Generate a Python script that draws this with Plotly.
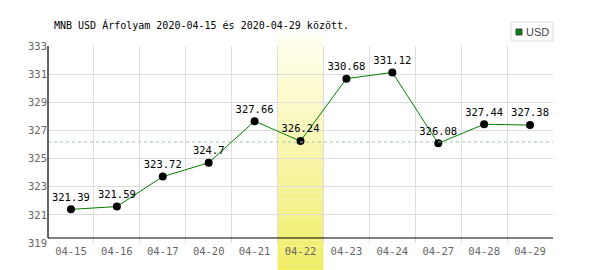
import plotly.graph_objects as go

dates = ["04-15", "04-16", "04-17", "04-20", "04-21", "04-22", "04-23", "04-24", "04-27", "04-28", "04-29"]
rates = [321.39, 321.59, 323.72, 324.7, 327.66, 326.24, 330.68, 331.12, 326.08, 327.44, 327.38]
value_labels = ["321.39", "321.59", "323.72", "324.7", "327.66", "326.24", "330.68", "331.12", "326.08", "327.44", "327.38"]
highlight_date = "04-22"
y_ticks = [319, 321, 323, 325, 327, 329, 331, 333]
title_text = "MNB USD Árfolyam 2020-04-15 és 2020-04-29 között."
series_name = "USD"

W, H = 600, 270
L, R, T, B = 48, 553, 46, 243
MONO = "DejaVu Sans Mono"


def px(X):
    return (X - L) / (R - L)


def py(Y):
    return (B - Y) / (B - T)


avg = sum(rates) / len(rates)
hi = dates.index(highlight_date)

fig = go.Figure()
fig.add_trace(go.Scatter(
    x=dates, y=rates, mode="lines+markers+text",
    line=dict(color="#008000", width=1),
    marker=dict(color="black", size=8),
    text=value_labels, textposition="top center",
    textfont=dict(family=MONO, size=10.5, color="black"),
    showlegend=False, cliponaxis=False,
))

shapes = []
# gradient highlight band
n = 40
top_c = (255, 255, 240)
bot_c = (240, 237, 100)
y0p, y1p = py(35), py(270)
for i in range(n):
    t = (i + 0.5) / n
    c = tuple(round(top_c[k] + (bot_c[k] - top_c[k]) * t) for k in range(3))
    shapes.append(dict(type="rect", xref="x", yref="paper",
                       x0=hi - 0.5, x1=hi + 0.5,
                       y0=y0p + (y1p - y0p) * i / n, y1=y0p + (y1p - y0p) * (i + 1) / n,
                       fillcolor="rgb(%d,%d,%d)" % c, line=dict(width=0), layer="below"))
# average dashed line
shapes.append(dict(type="line", xref="paper", yref="y", x0=0, x1=1, y0=avg, y1=avg,
                   line=dict(color="#99cc99", width=1, dash="3px,3px")))
# black axes
shapes.append(dict(type="line", xref="paper", yref="paper", x0=0, x1=1, y0=py(238), y1=py(238),
                   line=dict(color="black", width=1.2)))
shapes.append(dict(type="line", xref="paper", yref="paper", x0=0, x1=0, y0=py(238), y1=1,
                   line=dict(color="black", width=1.2)))
# legend box
shapes.append(dict(type="rect", xref="paper", yref="paper", x0=px(511), x1=px(553), y0=py(41), y1=py(22),
                   line=dict(color="#dddddd", width=1), fillcolor="white"))
shapes.append(dict(type="rect", xref="paper", yref="paper", x0=px(516), x1=px(522), y0=py(35), y1=py(29),
                   line=dict(color="#444444", width=1), fillcolor="#008000"))

annotations = [
    dict(text=title_text, xref="paper", yref="paper", x=px(52), y=py(25), xanchor="left", yanchor="middle",
         showarrow=False, font=dict(family=MONO, size=10, color="black")),
    dict(text=series_name, xref="paper", yref="paper", x=px(524), y=py(32), xanchor="left", yanchor="middle",
         showarrow=False, font=dict(family="Liberation Sans Narrow, Liberation Sans", size=11, color="#444444")),
]

fig.update_layout(
    width=W, height=H,
    margin=dict(l=L, r=W - R, t=T, b=H - B),
    paper_bgcolor="white", plot_bgcolor="rgba(0,0,0,0)",
    shapes=shapes, annotations=annotations,
    xaxis=dict(type="category", range=[-0.5, len(dates) - 0.5], tickson="boundaries",
               showgrid=True, gridcolor="#dddddd", gridwidth=1, ticks="", showline=False,
               zeroline=False, fixedrange=True,
               tickfont=dict(family=MONO, size=10.5, color="#666666")),
    yaxis=dict(range=[y_ticks[0], y_ticks[-1]], tickvals=y_ticks, showgrid=True, gridcolor="#dddddd",
               gridwidth=1, ticks="", showline=False, zeroline=False, fixedrange=True,
               tickfont=dict(family=MONO, size=10.5, color="#666666")),
    showlegend=False,
)

fig.write_html("out.html", config={"displayModeBar": False})
